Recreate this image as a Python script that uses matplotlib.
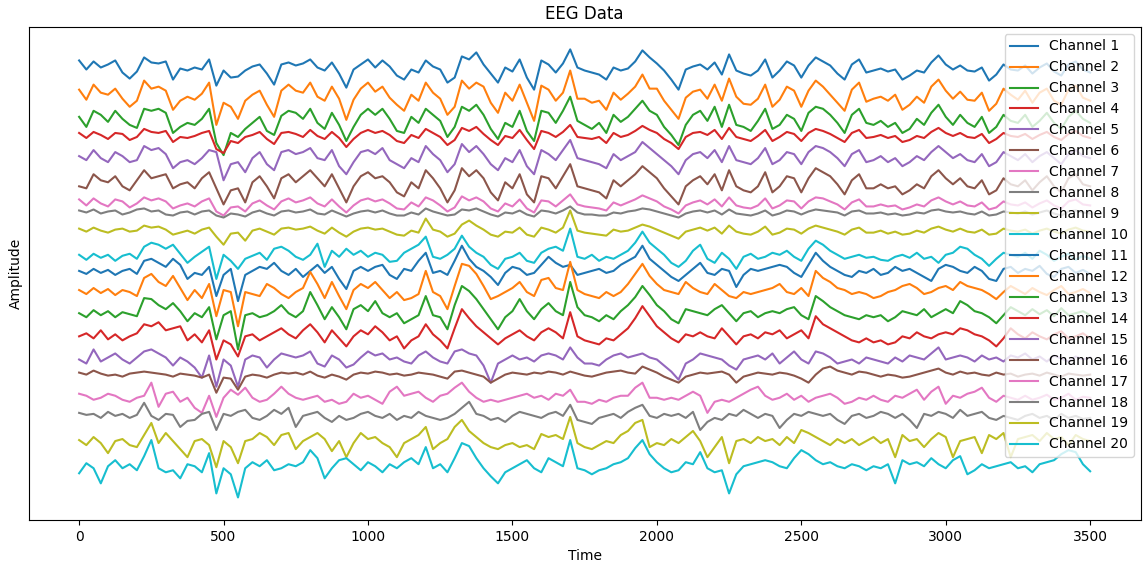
import numpy as np
import matplotlib
matplotlib.use("Agg")
import matplotlib.pyplot as plt

# samples between stored points
step = 25

# vertical offset of each channel so the traces stack
offsets = [0, -27, -51, -67, -88, -114, -135, -144, -162, -188,
           -202, -223, -244, -267, -290, -305, -328, -348, -373, -398]

ch01 = [7, -2, 6, 0, 3, 7, -5, -11, -4, 10,
        5, 4, 6, -12, -1, -3, 0, -2, 8, -18,
        -3, -10, -9, -3, 1, 3, -6, -17, 3, 5,
        2, 4, 8, 0, -3, 5, -6, -20, -2, 3,
        8, 0, 7, 1, -8, -12, -2, -5, 7, 1,
        -2, -15, -10, 11, 8, 15, 3, -6, -15, 0,
        -4, 8, -10, -22, 7, 3, -5, 4, 18, 0,
        -3, -5, -7, -12, 0, -3, -1, 6, 17, 10,
        4, -3, -12, -22, -2, 1, 3, -2, 5, -7,
        13, -3, -6, -8, -3, 8, -10, -3, 6, 2,
        -10, 2, 10, 6, 2, -6, -12, 3, 8, -5,
        -3, -1, -4, -2, -12, -8, -3, -5, 5, 12,
        3, -2, 2, -3, -4, 0, -13, -7, 3, -2,
        -3, 2, -6, 0, 4, -4, -8, 3, 6, -2, -5]
ch02 = [5, -5, 10, 2, 0, 6, -4, -12, -6, 14,
        6, 8, 4, -15, -6, -2, -5, 1, 12, -30,
        -8, -12, -24, -6, 0, 4, -10, -22, 4, 10,
        4, 2, 12, -2, -6, 8, -4, -25, -5, 6,
        12, 3, 8, -3, -10, -16, 0, -6, 12, 2,
        -4, -20, -12, 14, 6, 12, 8, -8, -18, 2,
        -6, 10, -8, -26, 9, 5, -6, 2, 24, -4,
        -4, -8, -6, -15, 2, -5, 1, 8, 20, 6,
        6, -6, -15, -24, -3, 3, 5, -4, 10, -6,
        16, -2, -9, -10, -4, 10, -12, -5, 8, 4,
        -12, 4, 14, 8, 0, -8, -16, 5, 12, -7,
        -4, -2, -6, 0, -15, -10, -2, -8, 8, 15,
        4, -4, 3, -5, -6, 2, -16, -9, 6, 0,
        -5, 4, -8, 2, 6, -6, -10, 5, 9, -3, -6]
ch03 = [2, -8, 8, 4, -3, 8, 0, -6, -9, 10,
        8, 10, 6, -14, -8, -4, -6, 0, 10, -24,
        -36, -14, -18, -10, -4, 2, -12, -16, 3, 8,
        6, 0, 10, -4, -10, 6, -6, -22, -8, 4,
        10, 4, 10, 0, -12, -14, 2, -4, 10, 4,
        -2, -18, -8, 12, 8, 14, 4, -10, -20, -4,
        -8, 8, -12, -22, 8, 6, -4, 8, 22, -2,
        -6, -10, -4, -14, 4, -3, 2, 10, 18, 8,
        4, -8, -16, -26, -6, 4, 8, -2, 12, -8,
        14, -6, -8, -12, -2, 10, -10, -6, 4, 0,
        -12, 6, 12, 10, 4, -4, -14, 4, 10, -4,
        -6, -2, -8, -4, -14, -10, 0, -6, 6, 14,
        2, -6, 4, -4, -8, 2, -14, -8, 4, -2,
        -4, 4, -8, -2, 6, -4, -10, 2, 8, 0, -4]
ch04 = [2, -3, 3, 0, -4, 2, 1, -5, -2, 6,
        3, 2, 4, -7, -2, -3, -1, 2, 4, -14,
        -18, -6, -8, -2, 0, 3, -4, -9, 2, 3,
        1, -2, 5, -1, -4, 3, -3, -12, -4, 2,
        5, 2, 4, 0, -6, -8, 0, -3, 6, 2,
        -2, -10, -5, 7, 4, 8, 1, -5, -10, -1,
        -3, 5, -5, -14, 4, 2, -2, 3, 10, -2,
        -3, -4, -2, -8, 2, -2, 0, 4, 9, 5,
        2, -4, -8, -14, -2, 2, 3, 0, 5, -4,
        7, -2, -4, -6, -1, 5, -6, -2, 3, 1,
        -6, 2, 6, 4, 1, -3, -7, 2, 5, -3,
        -2, 0, -3, -1, -7, -5, -1, -3, 3, 7,
        2, -1, 2, -2, -3, 1, -8, -4, 2, -1,
        -2, 1, -4, 0, 3, -2, -5, 1, 4, -1, -3]
ch05 = [0, -4, 6, -2, -6, 4, 0, -6, -4, 10,
        6, 8, 2, -12, -6, -4, -8, -2, 6, 4,
        -24, -8, -6, -16, -2, 4, -8, -14, 4, 6,
        2, 4, 8, -2, -4, 6, -10, -18, -6, 4,
        6, 2, 8, -4, -8, -12, -2, -6, 10, 2,
        -4, -16, -8, 12, 4, 10, 2, -8, -14, -2,
        -6, 6, -10, -18, 6, 2, -4, 6, 16, -2,
        -4, -6, -8, -12, 2, -4, 0, 4, 14, 8,
        2, -4, -10, -18, -4, 2, 4, -2, 6, -6,
        10, -4, -6, -8, -2, 8, -8, -4, 4, 2,
        -8, 4, 10, 8, 4, -2, -10, 2, 6, -6,
        -4, 0, -6, -2, -10, -6, 0, -4, 4, 10,
        4, -2, 2, -4, -6, 2, -10, -6, 4, 0,
        -4, 2, -6, 0, 4, -2, -8, 2, 6, 0, -2]
ch06 = [-4, -6, 8, 2, 0, 6, -4, -8, 2, 12,
        4, 6, 8, -6, -2, 0, -6, 4, 10, -6,
        -22, -8, -6, -20, 0, 6, -4, -16, 4, 8,
        0, 6, 12, 4, -4, 8, -6, -20, -4, 6,
        10, 4, 6, 0, -10, -14, 0, -6, 12, 4,
        -6, -20, -8, 14, 6, 12, 4, -10, -18, 0,
        -6, 8, -12, -20, 6, 4, -6, 6, 18, -4,
        -6, -8, -10, -16, 2, -4, 2, 8, 16, 10,
        4, -6, -14, -22, -4, 2, 6, -2, 8, -8,
        12, -4, -8, -10, -4, 10, -10, -4, 6, 4,
        -10, 4, 14, 10, 6, -2, -12, 2, 8, -6,
        -6, -2, -6, -4, -12, -8, -2, -6, 6, 12,
        4, -2, 4, -4, -6, 2, -12, -8, 4, -2,
        -4, 2, -8, 0, 6, -4, -10, 4, 8, -2, -4]
ch07 = [4, -2, 5, 0, -3, 4, 2, -4, 0, 6,
        3, 5, 2, -5, -2, 0, -3, 2, 5, -8,
        -12, -4, -3, -8, 0, 3, -2, -6, 2, 5,
        1, 3, 6, 0, -3, 4, -3, -9, -2, 3,
        5, 2, 4, 0, -5, -6, 1, -3, 6, 3,
        -2, -8, -4, 7, 3, 6, 2, -5, -8, 0,
        -3, 4, -5, -9, 3, 2, -3, 3, 9, -1,
        -3, -4, -5, -7, 1, -2, 1, 4, 8, 5,
        2, -3, -6, -10, -2, 1, 3, -1, 4, -3,
        6, -2, -4, -5, -2, 5, -5, -2, 3, 2,
        -5, 2, 6, 5, 2, -1, -6, 1, 4, -3,
        -3, -1, -3, -2, -6, -4, -1, -3, 3, 6,
        2, -1, 2, -2, -3, 1, -6, -4, 2, -1,
        -2, 1, -4, 0, 3, -2, -5, 2, 4, -1, -2]
ch08 = [2, 0, 3, -1, 1, 2, -2, 0, 3, 4,
        1, 2, -2, -3, 0, 1, -2, 1, 2, -3,
        -5, -1, -2, -4, 0, 2, -1, -3, 1, 2,
        0, 1, 3, -1, -2, 2, -1, -4, -1, 1,
        2, 0, 2, -1, -3, -3, 0, -2, 4, 1,
        -1, -3, -2, 3, 2, 4, 1, -2, -4, 0,
        -1, 2, -2, -4, 2, 1, -1, 2, 6, 0,
        -2, -2, -3, -3, 0, -1, 1, 2, 4, 3,
        1, -1, -3, -5, -1, 1, 2, 0, 2, -2,
        3, -1, -2, -3, -1, 2, -3, -1, 2, 1,
        -2, 1, 3, 2, 1, 0, -3, 1, 2, -1,
        -1, 0, -2, -1, -3, -2, 0, -1, 2, 3,
        1, 0, 1, -1, -2, 1, -3, -2, 1, 0,
        -1, 1, -2, 0, 2, -1, -3, 1, 2, 0, -1]
ch09 = [2, -1, 3, 0, -2, 1, 2, -1, 0, 5,
        3, 4, 1, -4, -2, 0, -3, 1, 3, -6,
        -14, -3, -2, -10, 0, 2, -1, -4, 2, 3,
        1, 2, 4, 0, -3, 3, -2, -6, -1, 2,
        3, 1, 2, -1, -4, -5, 0, -2, 12, 1,
        -1, -6, -3, 6, 10, 5, 1, -4, -6, -1,
        -2, 3, -4, -6, 3, 1, -2, 3, 20, 0,
        -2, -3, -4, -5, 1, -1, 0, 3, 6, 4,
        1, -2, -5, -8, -1, 1, 3, 0, 3, -3,
        5, -1, -3, -4, -1, 4, -4, -2, 2, 1,
        -3, 2, 5, 3, 1, -1, -4, 1, 3, -2,
        -2, 0, -3, -1, -4, -3, 0, -2, 2, 4,
        1, -1, 2, -1, -2, 1, -4, -3, 2, 0,
        -1, 1, -3, 0, 2, -1, -3, 1, 3, 0, -1]
ch10 = [2, -3, 3, -1, 2, -4, 1, 3, -2, 10,
        14, 12, 8, 12, 3, -6, 0, 5, 10, -22,
        2, -4, -12, -2, 1, 4, -3, 8, 10, 6,
        0, -3, 2, 13, -10, 6, 0, 8, 2, 6,
        0, 4, 2, -5, -4, 4, 8, 12, 20, 0,
        -2, 2, 8, 21, 10, 4, 0, -8, -12, -2,
        0, 4, -4, -6, 4, 8, 10, 6, 28, 0,
        -2, 2, -4, 0, -2, 2, 6, 14, 25, 14,
        8, 2, -6, -10, -4, 6, 12, -2, -6, 4,
        -2, -12, 0, 3, -2, 0, 4, 2, 6, 0,
        -4, 8, 16, 12, 6, 2, -2, 0, 2, -1,
        0, -3, -4, 0, 2, -1, 4, -2, 0, -6,
        2, 4, 10, 8, 2, -2, -9, -2, 4, 2,
        0, 4, -2, 6, 2, -4, 0, 3, -3, 1, -2]
ch11 = [0, -3, 2, -2, 1, -4, 0, 2, -3, 10,
        12, 8, 4, 12, 6, -8, -2, -4, 4, -25,
        -4, 2, -30, -4, 0, 4, 2, 8, 0, -4,
        2, -6, 0, 6, -2, 4, -8, -18, 0, 4,
        0, 4, 6, -4, -8, 2, 0, 10, 18, -2,
        0, -4, 10, 25, 12, 4, 0, -6, -14, -2,
        4, 2, -4, -2, 6, 14, 8, 4, 6, -4,
        -2, 0, 2, -2, 0, 6, 10, 14, 25, 12,
        6, 0, -6, -10, -4, 2, 8, -2, -4, 2,
        0, -16, -4, 2, 0, 2, 4, 6, 4, -2,
        -6, 6, 18, 10, 4, 0, -4, -6, 0, -2,
        2, -4, -2, 4, 0, 2, -2, -6, -10, 2,
        6, 4, 0, -2, 4, 0, -8, -10, 2, 4,
        -2, 2, 0, 5, -3, -6, 2, 4, -2, 1, -3]
ch12 = [2, -2, 4, -1, 3, -3, 2, 0, -4, 14,
        18, 10, 6, 16, 4, -8, 2, -6, 8, -24,
        2, 0, -34, 0, -2, -4, 8, 4, -2, -6,
        0, 4, 20, 8, -6, 10, -4, -17, 2, 8,
        4, 10, 2, -6, 0, -8, -6, -2, 21, 0,
        -4, -17, 6, 28, 26, 18, 6, -7, -4, 0,
        4, 10, 0, -4, 12, 14, 4, 2, 30, 2,
        -2, -4, -6, 0, -4, 0, 8, 18, 28, 16,
        8, 2, 0, -2, 10, 4, 0, -2, 8, 2,
        -4, -6, 0, -2, 0, 2, 4, 8, 0, -2,
        4, -4, 21, 14, 10, 4, 2, -2, 0, -2,
        -6, -4, 0, 2, 6, 8, 4, -2, 0, 4,
        6, 2, 10, 6, 4, 2, -2, -7, 0, 6,
        2, -2, 4, 0, -3, 2, 6, -2, 0, 3, -1]
ch13 = [0, -4, 3, -2, 2, -4, 1, -1, -3, 15,
        14, 8, 4, 10, 2, -8, 0, -4, 6, -26,
        -2, 2, -36, -2, 0, -4, -2, 2, 8, 0,
        -4, 2, 21, 8, -6, 6, -4, -16, 4, 8,
        2, 12, 0, -4, 0, -10, -6, -2, 17, -2,
        -4, -16, 8, 27, 22, 14, 4, -6, -16, -4,
        2, 14, 2, -6, 4, 10, 2, -2, 31, 6,
        -2, -4, -8, -2, -6, 2, 8, 16, 27, 18,
        8, 2, -6, -10, 4, 2, 0, -2, 4, 8,
        0, -8, 0, 2, -4, 0, 2, 0, 4, 6,
        -2, -6, 17, 12, 6, 2, -2, -4, -6, -2,
        -4, -2, -8, -4, 2, 0, -2, 4, -4, 0,
        4, 0, 12, 8, 2, 0, -4, -10, -2, 6,
        2, -2, 4, -1, 3, -3, 5, -2, 0, 2, -2]
ch14 = [0, 3, -2, 6, -3, 2, -4, 0, 3, 12,
        10, 14, 6, 8, 10, -4, 2, -6, 6, -23,
        -4, -8, -20, 0, 2, -4, 0, 4, 8, 2,
        -2, 6, 12, 4, -6, 6, -2, -10, 0, 6,
        2, 10, 4, -4, 0, -12, -4, 0, 12, 2,
        -4, -12, 8, 27, 18, 10, 4, -2, -8, -2,
        2, 6, 0, -4, 4, 8, 4, -2, 24, 0,
        -4, -6, -8, -2, -4, 2, 8, 18, 30, 20,
        10, 4, -2, -6, 2, 0, 4, 0, -2, 8,
        0, -8, 0, 2, -2, 4, 2, 6, -2, 2,
        6, -2, 20, 12, 8, 4, 0, -4, -6, -2,
        -6, -4, -8, -6, 0, -2, 4, 0, -2, 2,
        4, 2, 8, 6, 2, 0, -4, -10, -2, 8,
        2, -2, 4, 0, -3, 2, 5, -2, 0, 3, -2]
ch15 = [0, -4, 10, -2, 2, 6, 0, -4, 2, 8,
        10, 6, 2, -6, 2, -2, -8, -18, 4, -27,
        0, -6, -27, 0, 4, 2, -8, 0, 6, 4,
        2, 4, 8, -4, -7, 4, 0, -8, -5, 2,
        8, 4, 6, 0, 2, -2, -4, 4, 8, 2,
        -2, -4, 8, 10, 6, 4, -6, -23, -4, 0,
        4, 0, 2, -2, 4, 6, 4, 0, 12, 2,
        -4, -4, -6, 0, 4, 6, 2, 4, 6, 2,
        0, -6, -12, -20, -4, 0, 6, 4, 2, 0,
        -6, -10, 0, 2, 4, 0, 6, -4, 2, 8,
        0, -4, 8, 6, 2, -4, -2, 0, -4, 2,
        0, -2, -4, 2, -2, 4, 2, 0, 6, 12,
        0, 2, 4, 2, -2, 4, 0, 2, -2, 4,
        2, 6, 0, 3, -2, 4, 1, -2, 3, 0, 2]
ch16 = [2, 0, 4, 1, -1, 0, -2, 1, 2, 3,
        2, 1, 0, -2, 1, 0, -1, -3, 0, -18,
        -3, -4, -15, -2, 0, -1, -3, 0, 2, 1,
        2, 0, 3, -1, -3, 0, -2, -5, 0, 2,
        1, 3, 2, 0, 1, -1, 0, 2, 1, 0,
        -2, -4, 3, 4, 2, 0, -2, -8, -4, 0,
        2, 1, 0, 2, 1, 3, 2, 0, 3, 1,
        -1, -2, 0, 2, 3, 4, 2, 1, 8, 5,
        2, -2, -5, -8, -2, 0, 2, 1, 2, 3,
        0, -8, -2, 0, 2, 1, 0, 2, 1, -1,
        -4, -8, 0, 6, 8, 4, 2, 0, 3, 2,
        0, -2, 0, -1, -3, -2, 0, 2, 4, 6,
        2, 0, 3, 1, 2, 0, -1, 2, 0, 1,
        -2, 0, 1, -1, 2, 0, -2, 1, 0, -1, 0]
ch17 = [4, 2, -2, 0, 4, 2, -2, -4, 0, 2,
        15, -9, 4, 6, -4, 0, -10, -15, 2, -19,
        0, 8, 3, 10, 0, -4, -2, 4, 11, 4,
        0, -2, 0, 2, -4, -2, -6, -4, 4, 0,
        2, -2, -6, 6, 11, 2, 4, 6, 0, -4,
        2, 4, 10, 15, 6, 0, -4, -2, -4, -2,
        0, 2, 4, 0, 2, -2, 4, 2, 8, -4,
        -4, -6, -2, -4, 0, 2, 2, 10, 15, 0,
        0, -2, 0, -2, 2, 6, 2, -15, -4, -2,
        -4, 0, 4, 8, 11, 2, -2, 0, 4, -2,
        2, -4, 0, 2, 4, 0, -6, -4, 0, -2,
        2, -2, -4, 2, 0, 4, 8, -2, 6, 11,
        -6, 2, 0, 4, 6, 10, 0, -4, 2, 0,
        -2, 2, -2, 0, 3, -2, 0, 4, -2, 1, 0]
ch18 = [5, 3, 4, 0, 6, 2, 4, 0, 3, 15,
        2, -2, 4, 3, -9, -3, -2, 4, 6, -12,
        4, 2, 6, 8, 0, -2, 2, 8, 4, 10,
        -9, 2, 4, 6, 0, -4, 2, -2, 0, 4,
        6, 2, 0, 4, -2, 2, 0, 6, 2, 0,
        -2, 0, 4, 10, 16, 4, 2, -2, 0, -4,
        2, 6, 4, 2, 0, 4, 6, 2, 13, -2,
        -4, -6, 0, 2, 4, 0, 6, 10, 13, 2,
        0, 4, 2, 4, 0, 6, -12, -4, 0, -2,
        4, 2, 8, 4, 0, 4, 2, -10, -2, 4,
        2, 6, 4, 2, 4, -2, -6, 2, 4, 0,
        2, 6, 4, 0, 4, -2, -10, 4, 2, 6,
        4, 0, 8, 2, 4, 6, 0, -2, 2, 0,
        -2, 2, 4, 0, 2, -2, 4, 0, 2, -1, 0]
ch19 = [3, -2, 6, 0, -10, 2, 4, -2, -4, 8,
        20, 0, 10, 2, -6, -14, 2, 4, -2, -24,
        2, -4, -20, 2, 4, 10, 6, -2, 8, 10,
        -6, 2, 6, 10, 4, -8, 2, -14, 0, 10,
        4, 6, 0, -4, -14, 0, 4, 8, 16, -6,
        0, 4, 16, 23, 12, 6, 0, -4, -6, -2,
        0, -4, -2, -6, 9, 6, 8, 4, 26, 0,
        -4, -6, -2, 2, 0, 8, 12, 20, 23, -4,
        0, -2, 4, 0, 6, 12, 2, -14, -4, 6,
        -20, 2, 4, 0, 6, 2, 4, -2, 6, 0,
        13, 10, 6, 2, -2, 4, 0, 4, -2, 2,
        6, 0, 4, -14, 8, 2, 4, -4, 4, 10,
        6, -14, 2, 4, 6, -10, 8, 4, 10, -14,
        4, 6, 8, 2, 10, 4, 6, -2, 8, 4, 2]
ch20 = [-5, 5, 0, -15, 2, 8, 0, 4, -2, 12,
        28, 0, -4, -2, -10, 4, 2, -4, 15, -25,
        0, -6, -29, 0, 6, 2, 8, -2, 0, 4,
        2, 6, 18, 10, -10, 0, 8, 10, 4, -2,
        6, 2, -4, 4, 0, 6, 10, 4, 21, 0,
        4, -4, 10, 25, 22, 10, 0, -8, -15, -4,
        0, 4, 8, 0, -4, 10, 6, 2, 28, 0,
        -2, -6, -2, 0, 4, 6, 10, 20, 28, 14,
        6, 0, -4, -2, 6, 4, 16, 0, -4, -2,
        -25, -6, 2, 4, 6, 8, 6, 2, 0, 10,
        18, 14, 8, 4, 6, 2, 0, 4, 2, -2,
        2, 0, 4, -15, 8, 4, 6, 2, 10, 4,
        0, 8, 12, -6, -2, 4, 0, 2, 4, 6,
        0, 2, -4, 4, 6, 8, 14, 18, 16, 4, -3]

channels = [ch01, ch02, ch03, ch04, ch05, ch06, ch07, ch08, ch09, ch10,
            ch11, ch12, ch13, ch14, ch15, ch16, ch17, ch18, ch19, ch20]
labels = ['Channel %d' % (i + 1) for i in range(len(channels))]

fig = plt.figure(figsize=(11.43, 5.62), dpi=100)
ax = fig.add_subplot(111)

for trace, off, lab in zip(channels, offsets, labels):
    trace = np.array(trace)
    time = np.arange(len(trace)) * step
    ax.plot(time, trace + off, label=lab)

ax.set_title('EEG Data')
ax.set_xlabel('Time')
ax.set_ylabel('Amplitude')
ax.set_yticks([])
ax.legend(loc='upper right')

plt.subplots_adjust(left=0.025, right=0.998, top=0.952, bottom=0.075)
plt.savefig('out.png')
